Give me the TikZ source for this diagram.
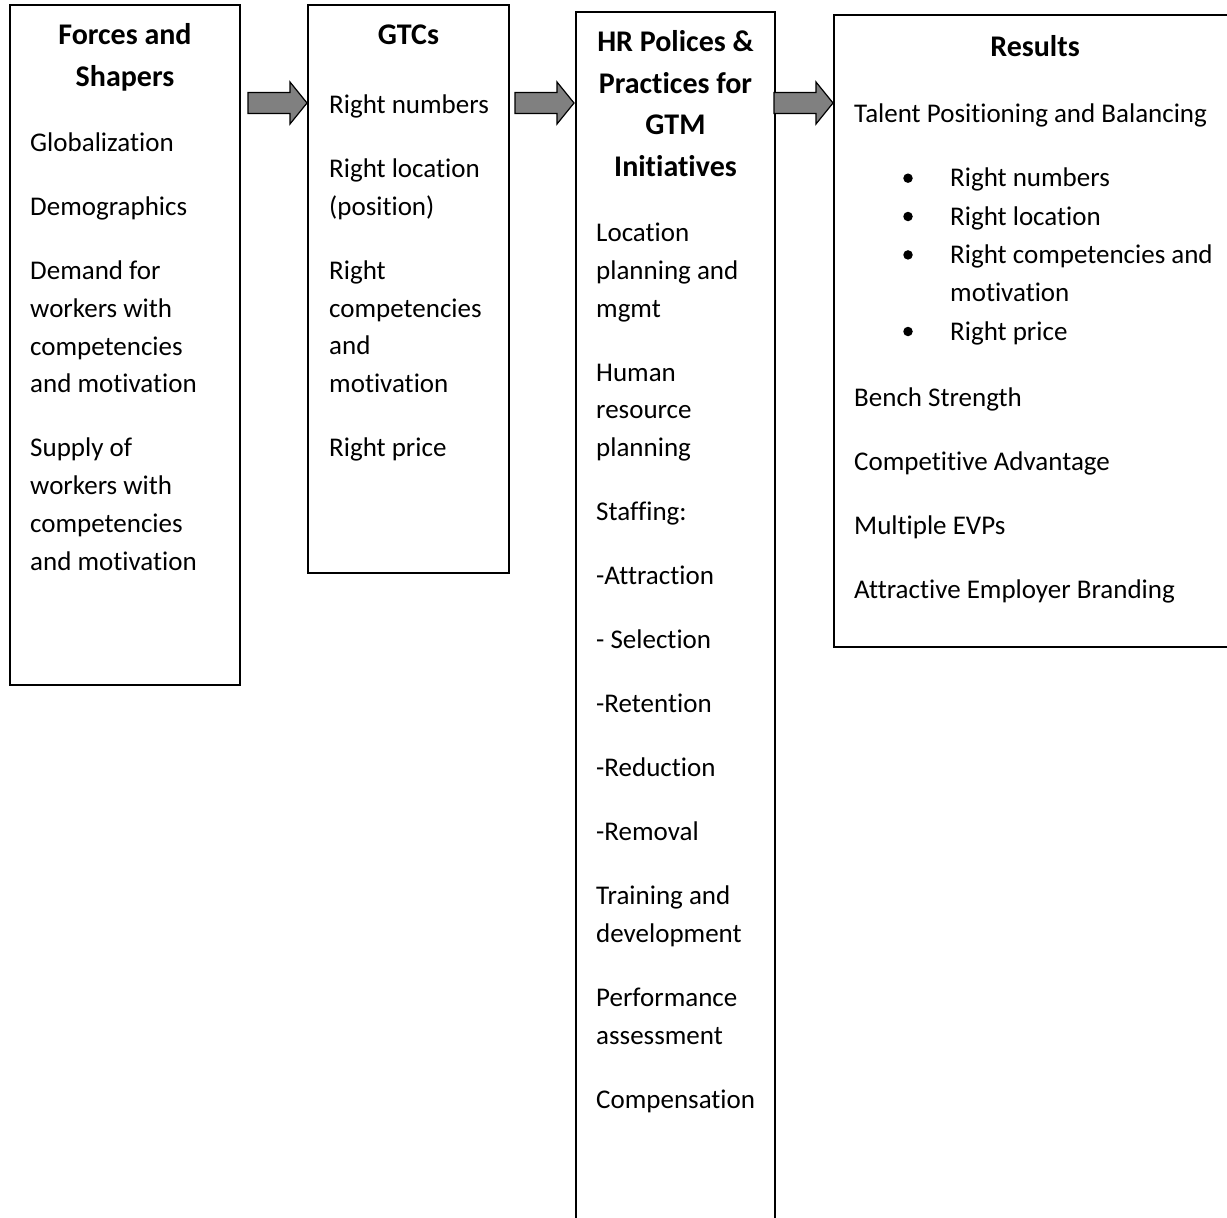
\documentclass[tikz,border=0pt]{standalone}
\usepackage{fontspec}
\setmainfont{Carlito}[Ligatures=CommonOff]
\usepackage{tikz}
\usetikzlibrary{calc}

\definecolor{arrowgray}{RGB}{128,128,128}

\tikzset{
    box/.style={draw, line width=1.5pt, anchor=north west, inner sep=0pt, outer sep=0pt},
    txt/.style={anchor=base west, inner sep=0pt, font=\fontsize{27}{32}\selectfont},
    ttl/.style={anchor=base, inner sep=0pt, font=\fontsize{30}{36}\selectfont\bfseries},
    dot/.style={circle, fill, inner sep=0pt, minimum size=9.5pt},
    blockarrow/.style={draw, line width=1.2pt, fill=arrowgray, line join=miter,
        to path={([yshift=10.5pt]\tikztostart) -- ([xshift=-17pt,yshift=10.5pt]\tikztotarget)
            -- ([xshift=-17pt,yshift=21pt]\tikztotarget) -- (\tikztotarget)
            -- ([xshift=-17pt,yshift=-21pt]\tikztotarget) -- ([xshift=-17pt,yshift=-10.5pt]\tikztotarget)
            -- ([yshift=-10.5pt]\tikztostart) -- cycle}}
}

\begin{document}
\begin{tikzpicture}[x=1pt, y=-1pt]

\useasboundingbox (0,0) rectangle (1227,1218);
\clip (0,0) rectangle (1227,1218);

% Boxes
\node[box, minimum width=230, minimum height=680] (forces) at (10,5) {};
\node[box, minimum width=201, minimum height=568] (gtc) at (308,5) {};
\node[box, minimum width=199, minimum height=1240] (hrp) at (576,12) {};
\node[box, minimum width=402, minimum height=632] (results) at (834,15) {};

% Forces and Shapers
\node[ttl] (ft1) at (forces.north |- 0,44) {Forces and};
\node[ttl] (ft2) at (forces.north |- 0,86.5) {Shapers};
\foreach \y/\t [count=\i] in {151.5/Globalization, 215.5/Demographics,
    279.5/Demand for, 317.3/workers with, 355.1/competencies, 392.9/and motivation,
    456.9/Supply of, 494.7/workers with, 532.5/competencies, 570.3/and motivation}
    \node[txt] (f\i) at (30,\y) {\t};

% GTCs
\node[ttl] (gt1) at (gtc.north |- 0,44) {GTCs};
\foreach \y/\t [count=\i] in {113.5/Right numbers, 177.5/Right location, 215.3/{(position)},
    279.3/Right, 317.1/competencies, 354.9/and, 392.7/motivation, 456.7/Right price}
    \node[txt] (g\i) at (329,\y) {\t};

% HR policies
\node[ttl] (ht1) at (hrp.north |- 0,51.5) {HR Polices \&};
\node[ttl] (ht2) at (hrp.north |- 0,93) {Practices for};
\node[ttl] (ht3) at (hrp.north |- 0,134.5) {GTM};
\node[ttl] (ht4) at (hrp.north |- 0,176) {Initiatives};
\foreach \y/\t [count=\i] in {241.5/Location, 279.3/planning and, 317.1/mgmt,
    381.1/Human, 418.9/resource, 456.7/planning, 520.7/Staffing:,
    584.7/-Attraction, 648.7/- Selection, 712.7/-Retention, 776.7/-Reduction, 840.7/-Removal,
    904.5/Training and, 942.3/development, 1006.3/Performance, 1044.1/assessment,
    1108.1/Compensation}
    \node[txt] (h\i) at (596,\y) {\t};

% Results
\node[ttl] (rt1) at (results.north |- 0,56.5) {Results};
\foreach \y/\t [count=\i] in {122.5/Talent Positioning and Balancing, 406.5/Bench Strength,
    470.5/Competitive Advantage, 534.5/Multiple EVPs, 598/Attractive Employer Branding}
    \node[txt] (r\i) at (854,\y) {\t};
\foreach \y/\t [count=\i] in {186.7/Right numbers, 225/Right location,
    263.4/Right competencies and, 301.7/motivation, 340/Right price}
    \node[txt] (rb\i) at (950,\y) {\t};
\foreach \y [count=\i] in {178.2, 216.5, 254.9, 331.5}
    \node[dot] (b\i) at (908,\y) {};

% Block arrows
\coordinate (a1s) at ($(forces.east |- 0,103)+(8,0)$);
\coordinate (a1e) at ($(gtc.west |- 0,103)+(-1,0)$);
\coordinate (a2s) at ($(gtc.east |- 0,103)+(6,0)$);
\coordinate (a2e) at ($(hrp.west |- 0,103)+(-2,0)$);
\coordinate (a3s) at ($(hrp.east |- 0,103)+(-1,0)$);
\coordinate (a3e) at ($(results.west |- 0,103)+(-1,0)$);
\draw[blockarrow] (a1s) to (a1e);
\draw[blockarrow] (a2s) to (a2e);
\draw[blockarrow] (a3s) to (a3e);

\end{tikzpicture}
\end{document}
